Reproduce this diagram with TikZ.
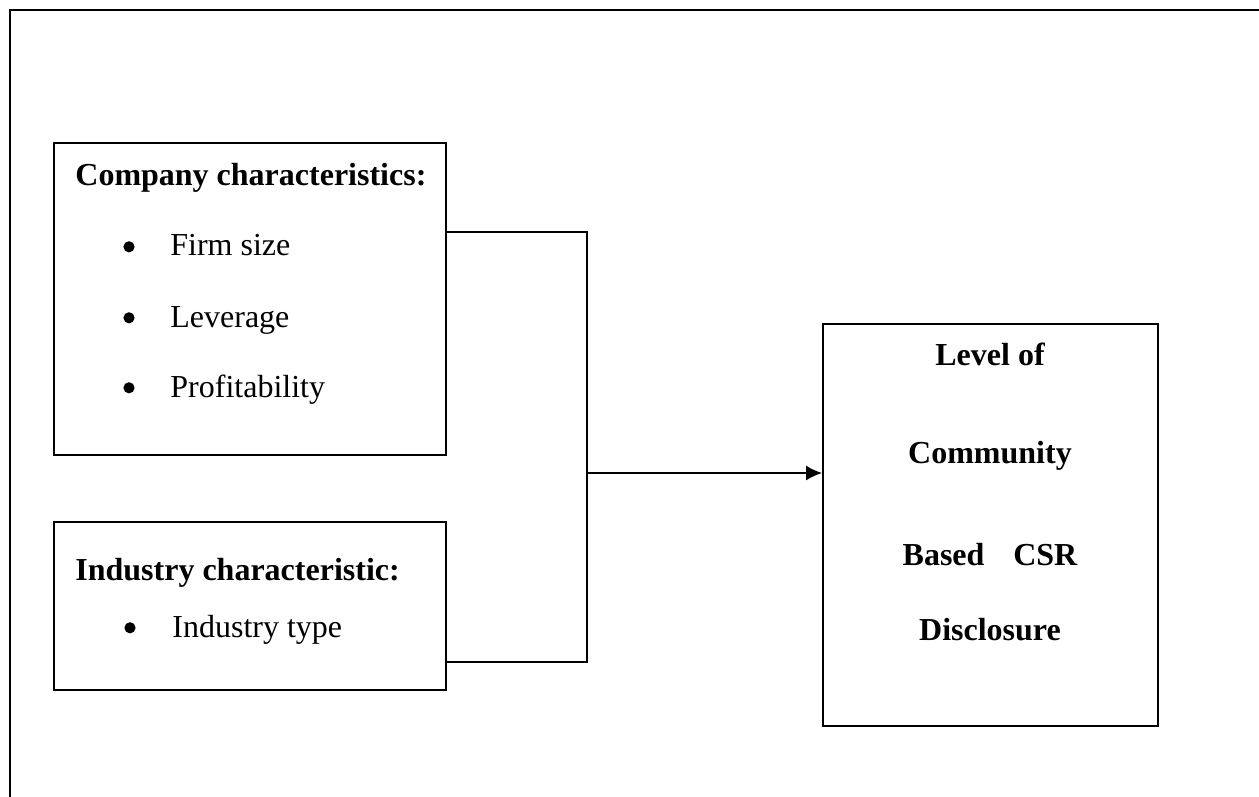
\documentclass[tikz,border=0pt]{standalone}
\usepackage{fontspec}
\setmainfont{Liberation Serif}
\usetikzlibrary{positioning,arrows.meta}

\begin{document}
\begin{tikzpicture}[x=0.5pt, y=-0.5pt, >={Latex[length=8pt,width=7.5pt]},
                    font=\fontsize{16}{19}\selectfont,
                    box/.style={draw, line width=1pt, inner sep=0pt},
                    item/.style={anchor=base west, inner sep=0pt},
                    head/.style={anchor=base west, inner sep=0pt, font=\fontsize{16}{19}\selectfont\bfseries},
                    dot/.style={circle, fill, inner sep=0pt, minimum size=5.6pt, yshift=4.6pt},
                    link/.style={line width=0.7pt}]
  \useasboundingbox (0,0) rectangle (1259,797);
  \draw[line width=1pt] (1270,10) -- (10,10) -- (10,810);

  \node[box, minimum width=196pt, minimum height=156pt] (company) at (250,299) {};
  \node[box, minimum width=196pt, minimum height=84pt] (industry) at (250,606) {};
  \node[box, minimum width=167.5pt, minimum height=201pt] (level) at (990.5,525) {};

  \node[head] (comphead) at (75,185) {Company characteristics:};
  \node[dot] (b1) at (129,256) {};
  \node[item] (size) at (170,256) {Firm size};
  \node[dot] (b2) at (129,327) {};
  \node[item] (lev) at (170,327) {Leverage};
  \node[dot] (b3) at (129,397) {};
  \node[item] (prof) at (170,397) {Profitability};

  \node[head] (indhead) at (75,580) {Industry characteristic:};
  \node[dot] (b4) at (130,637) {};
  \node[item] (type) at (172,637) {Industry type};

  \node[head, anchor=base] (l1) at (990,365) {Level of};
  \node[head, anchor=base] (l2) at (990,463) {Community};
  \node[head, anchor=base] (l3) at (990,565) {Based\hspace{0.9em}CSR};
  \node[head, anchor=base] (l4) at (990,640) {Disclosure};

  \coordinate (jtop) at (587,232);
  \coordinate (jmid) at (587,473);
  \coordinate (jbot) at (587,662);
  \draw[link] (company.east |- jtop) -- (jtop) -- (jbot) -- (industry.east |- jbot);
  \draw[link, ->] (jmid) -- (level.west |- jmid);
\end{tikzpicture}
\end{document}
